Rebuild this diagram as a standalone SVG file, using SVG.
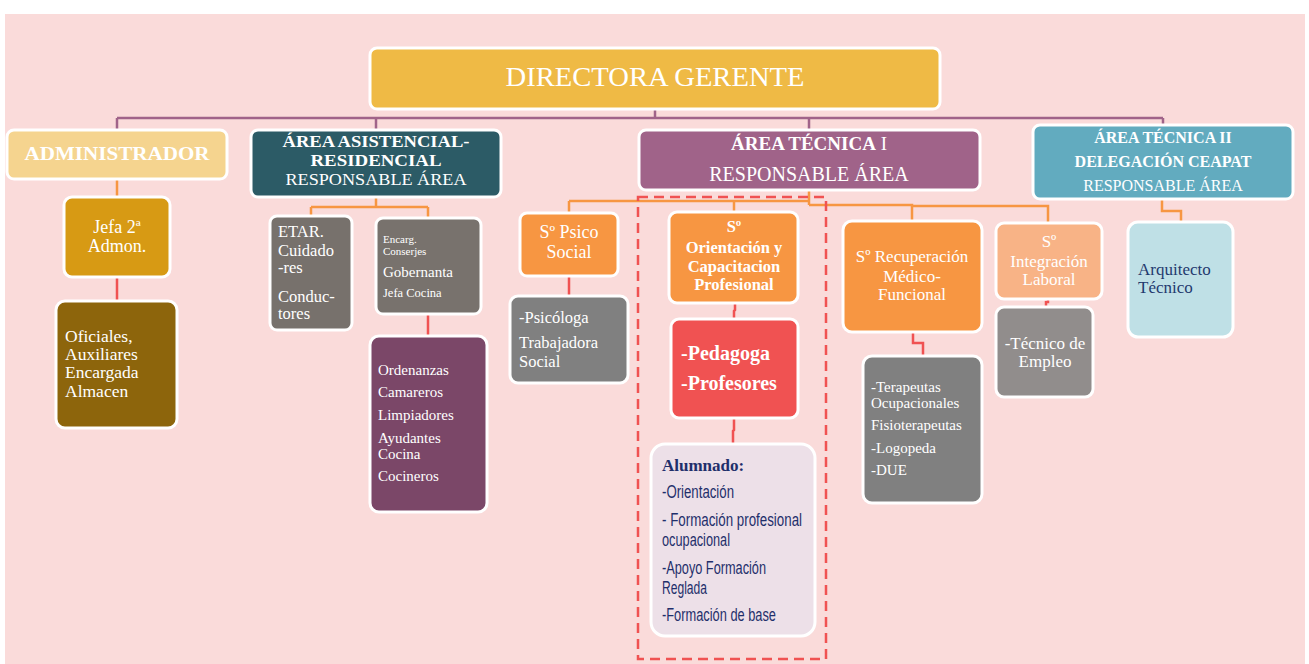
<svg xmlns="http://www.w3.org/2000/svg" width="1309" height="664" viewBox="0 0 1309 664">
<style>
.b{stroke:#fff;stroke-width:3}
.t{font-family:"Liberation Serif",serif;fill:#fff}
.c{text-anchor:middle}
.bd{font-weight:bold}
.n{font-family:"Liberation Sans",sans-serif;fill:#1F2F6B;font-size:17.5px}
.cp{fill:none;stroke:#A06389;stroke-width:2.5}
.co{fill:none;stroke:#F79642;stroke-width:2.5}
.cr{fill:none;stroke:#F05252;stroke-width:2.5}
</style>
<rect x="0" y="0" width="1309" height="664" fill="#fff"/>
<rect x="5" y="14" width="1300" height="650" fill="#FADBDA"/>
<g id="connectors">
<path class="cp" d="M655 109V118M117 118H1163M117 118V130M376 118V130M809 118V130M1163 118V125"/>
<path class="co" d="M117 179V197M376 197V207M311 207H428M311 207V216M428 207V218"/>
<path class="cr" d="M117 277V301M428 314V335"/>
<path class="co" d="M809 190V205M569 201H809M569 201V213M734 201V212M809 205H912V221M912 206H1048V223M1162 199V211H1181V222"/>
<path class="cr" d="M569 276V296M735 303V310L734 311V319M734 418V430L733 431V444M913 332V343H923V356M1048 299V302H1046V307"/>
<rect x="638" y="197" width="188" height="462" fill="none" stroke="#F05252" stroke-width="2.5" stroke-dasharray="10 6"/>
</g>
<g id="director"><rect class="b" x="370" y="48" width="570" height="61" rx="7" fill="#EFBA45"/><text class="t c" x="655" y="86" font-size="27" textLength="299" lengthAdjust="spacingAndGlyphs">DIRECTORA GERENTE</text></g>
<g id="administrador"><rect class="b" x="7" y="130" width="220" height="49" rx="7" fill="#F5D48F"/><text class="t c bd" x="117" y="160" font-size="19" textLength="185" lengthAdjust="spacingAndGlyphs">ADMINISTRADOR</text></g>
<g id="asistencial"><rect class="b" x="251" y="130" width="250" height="67" rx="7" fill="#2C5B66"/>
<text class="t c bd" x="376" y="147" font-size="16" textLength="187" lengthAdjust="spacingAndGlyphs">ÁREA ASISTENCIAL-</text>
<text class="t c bd" x="376" y="166" font-size="16" textLength="131" lengthAdjust="spacingAndGlyphs">RESIDENCIAL</text>
<text class="t c" x="376" y="185" font-size="17" textLength="181" lengthAdjust="spacingAndGlyphs">RESPONSABLE ÁREA</text></g>
<g id="tecnica1"><rect class="b" x="639" y="130" width="341" height="60" rx="7" fill="#A06389"/><text class="t c" x="809" y="150" font-size="19"><tspan class="bd">ÁREA TÉCNICA</tspan> I<tspan x="809" y="181" font-size="20">RESPONSABLE ÁREA</tspan></text></g>
<g id="tecnica2"><rect class="b" x="1033" y="125" width="260" height="74" rx="7" fill="#62ABBF"/><text class="t c" x="1163" y="143" font-size="16"><tspan class="bd">ÁREA TÉCNICA II</tspan><tspan class="bd" x="1163" y="167">DELEGACIÓN CEAPAT</tspan><tspan x="1163" y="191">RESPONSABLE ÁREA</tspan></text></g>
<g id="jefa"><rect class="b" x="64" y="197" width="106" height="80" rx="8" fill="#D79A14"/><text class="t c" x="117" y="233" font-size="18">Jefa 2ª<tspan x="117" y="252">Admon.</tspan></text></g>
<g id="oficiales"><rect class="b" x="56" y="301" width="121" height="127" rx="9" fill="#8D650C"/><text class="t" x="65" y="342" font-size="17.5">Oficiales,<tspan x="65" y="360">Auxiliares</tspan><tspan x="65" y="378">Encargada</tspan><tspan x="65" y="397">Almacen</tspan></text></g>
<g id="etar"><rect class="b" x="270" y="216" width="82" height="114" rx="7" fill="#77716C"/><text class="t" x="278" y="237" font-size="16.5">ETAR.<tspan x="278" y="256">Cuidado</tspan><tspan x="278" y="273">-res</tspan><tspan x="278" y="302">Conduc-</tspan><tspan x="278" y="319">tores</tspan></text></g>
<g id="encarg"><rect class="b" x="376" y="218" width="105" height="96" rx="7" fill="#78726D"/><text class="t" x="383" y="243" font-size="11">Encarg.<tspan x="383" y="255">Conserjes</tspan><tspan x="383" y="277" font-size="15">Gobernanta</tspan><tspan x="383" y="297" font-size="12.5">Jefa Cocina</tspan></text></g>
<g id="ordenanzas"><rect class="b" x="370" y="336" width="117" height="176" rx="9" fill="#7B4768"/><text class="t" x="378" y="375" font-size="15">Ordenanzas<tspan x="378" y="397">Camareros</tspan><tspan x="378" y="420">Limpiadores</tspan><tspan x="378" y="443">Ayudantes</tspan><tspan x="378" y="459">Cocina</tspan><tspan x="378" y="481">Cocineros</tspan></text></g>
<g id="psico"><rect class="b" x="520" y="213" width="98" height="63" rx="7" fill="#F79642"/><text class="t c" x="569" y="238" font-size="18">Sº Psico<tspan x="569" y="258">Social</tspan></text></g>
<g id="psicologa"><rect class="b" x="510" y="296" width="118" height="87" rx="8" fill="#808080"/><text class="t" x="519" y="323" font-size="16.5">-Psicóloga<tspan x="519" y="348">Trabajadora</tspan><tspan x="519" y="367">Social</tspan></text></g>
<g id="orientacion"><rect class="b" x="669" y="212" width="129" height="91" rx="8" fill="#F79642"/><text class="t c bd" x="734" y="232" font-size="16.5">Sº<tspan x="734" y="253">Orientación y</tspan><tspan x="734" y="272">Capacitacion</tspan><tspan x="734" y="290">Profesional</tspan></text></g>
<g id="pedagoga"><rect class="b" x="671" y="319" width="127" height="99" rx="8" fill="#F05252"/><text class="t bd" x="681" y="360" font-size="20">-Pedagoga<tspan x="681" y="390">-Profesores</tspan></text></g>
<g id="alumnado"><rect class="b" x="651" y="444" width="164" height="192" rx="14" fill="#EDE0E8"/><text class="t bd" x="662" y="471" font-size="17" style="fill:#1F2F6B">Alumnado:</text>
<text class="n" x="662" y="498" textLength="72" lengthAdjust="spacingAndGlyphs">-Orientación</text>
<text class="n" x="662" y="526" textLength="140" lengthAdjust="spacingAndGlyphs">- Formación profesional</text>
<text class="n" x="662" y="546" textLength="68" lengthAdjust="spacingAndGlyphs">ocupacional</text>
<text class="n" x="662" y="574" textLength="104" lengthAdjust="spacingAndGlyphs">-Apoyo Formación</text>
<text class="n" x="662" y="594" textLength="45" lengthAdjust="spacingAndGlyphs">Reglada</text>
<text class="n" x="662" y="621" textLength="114" lengthAdjust="spacingAndGlyphs">-Formación de base</text></g>
<g id="recuperacion"><rect class="b" x="843" y="221" width="139" height="111" rx="9" fill="#F79642"/><text class="t c" x="912" y="262" font-size="17">Sº Recuperación<tspan x="912" y="282">Médico-</tspan><tspan x="912" y="300">Funcional</tspan></text></g>
<g id="terapeutas"><rect class="b" x="863" y="356" width="119" height="147" rx="9" fill="#808080"/><text class="t" x="871" y="392" font-size="15">-Terapeutas<tspan x="871" y="408">Ocupacionales</tspan><tspan x="871" y="430">Fisioterapeutas</tspan><tspan x="871" y="453">-Logopeda</tspan><tspan x="871" y="475">-DUE</tspan></text></g>
<g id="integracion"><rect class="b" x="996" y="223" width="106" height="76" rx="8" fill="#F8B386"/><text class="t c" x="1049" y="247" font-size="17">Sº<tspan x="1049" y="267">Integración</tspan><tspan x="1049" y="285">Laboral</tspan></text></g>
<g id="empleo"><rect class="b" x="996" y="307" width="97" height="90" rx="8" fill="#918D8C"/><text class="t c" x="1045" y="349" font-size="17">-Técnico de<tspan x="1045" y="367">Empleo</tspan></text></g>
<g id="arquitecto"><rect class="b" x="1128" y="222" width="105" height="115" rx="10" fill="#BFE0E6"/><text class="t" x="1138" y="275" font-size="17" style="fill:#1F3A6E">Arquitecto<tspan x="1138" y="293">Técnico</tspan></text></g>
</svg>
